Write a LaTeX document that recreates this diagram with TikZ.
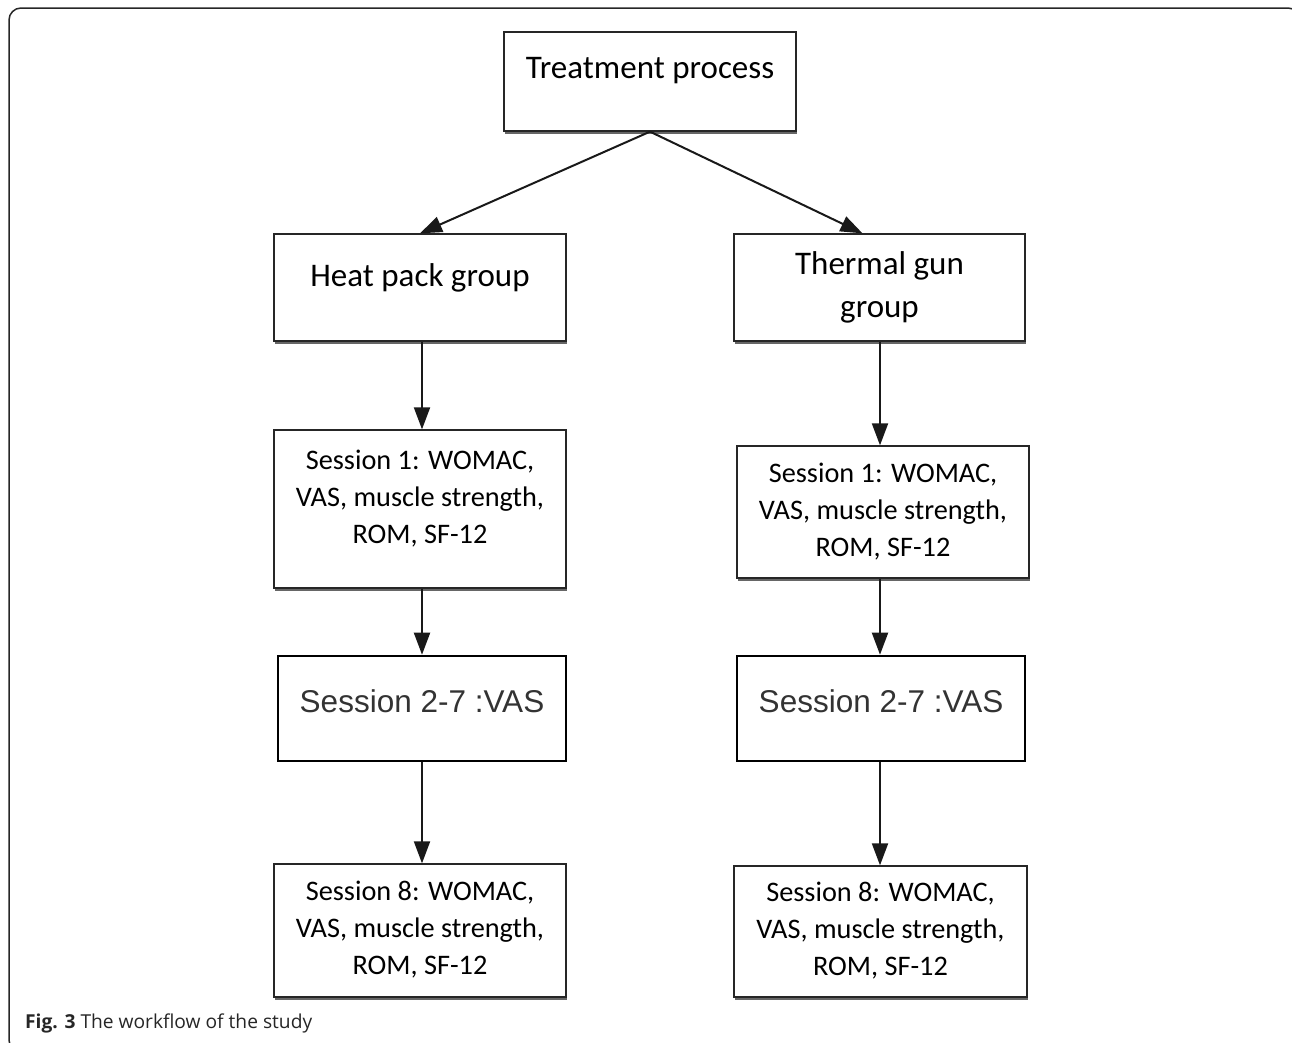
\documentclass[tikz,border=0pt]{standalone}
\usepackage{fontspec}
\setmainfont{Carlito}
\newfontfamily\arialf{Liberation Sans}
\newfontfamily\capf{Open Sans}
\usetikzlibrary{arrows.meta,shadows,calc}
\newcommand\liftbox[2]{\raisebox{#1}[\height][\depth]{\begin{tabular}{@{}c@{}}#2\end{tabular}}}
\begin{document}
\begin{tikzpicture}[x=1pt,y=-1pt,
  box/.style={draw=black!85, line width=1.3pt, fill=white, inner sep=0pt,
    text=black,
    drop shadow={shadow xshift=1pt, shadow yshift=-2.5pt, fill=black!75, opacity=0.8}},
  bigf/.style={font=\fontsize{33}{43}\selectfont},
  smallf/.style={font=\fontsize{28.3}{37}\selectfont},
  vasbox/.style={draw=black, line width=2.6pt, fill=white, inner sep=0pt,
    text=black!80, font=\arialf\fontsize{31.5}{36}\selectfont},
  conn/.style={line width=2pt, draw=black!90, -{Triangle[length=22pt,width=16pt]}}
]
\useasboundingbox (0,0) rectangle (1292,1042);
\clip (0,0) rectangle (1292,1042);
\draw[line width=1.5pt, draw=black!85, rounded corners=12pt] (9,8) rectangle (1300,1052);

% top
\node[box, bigf, minimum width=292pt, minimum height=99pt] (treat) at (650,81.5)
  {\liftbox{12pt}{Treatment process}};

% groups
\node[box, bigf, minimum width=292pt, minimum height=107pt] (hp) at (420,287.5)
  {\liftbox{10pt}{Heat pack group}};
\node[box, bigf, minimum width=291pt, minimum height=107pt] (tg) at (879.5,287.5)
  {\liftbox{0pt}{Thermal gun\\group}};

% session 1
\node[box, smallf, minimum width=292pt, minimum height=158pt] (s1l) at (420,509)
  {\liftbox{10pt}{Session 1: WOMAC,\\VAS, muscle strength,\\ROM, SF-12}};
\node[box, smallf, minimum width=292pt, minimum height=132pt] (s1r) at (883,512)
  {\liftbox{0pt}{Session 1: WOMAC,\\VAS, muscle strength,\\ROM, SF-12}};

% session 2-7
\node[vasbox, minimum width=288pt, minimum height=105pt] (s2l) at (422,708.5)
  {\liftbox{3pt}{Session 2-7 :VAS}};
\node[vasbox, minimum width=288pt, minimum height=105pt] (s2r) at (881,708.5)
  {\liftbox{3pt}{Session 2-7 :VAS}};

% session 8
\node[box, smallf, minimum width=292pt, minimum height=133pt] (s8l) at (420,930.5)
  {\liftbox{0pt}{Session 8: WOMAC,\\VAS, muscle strength,\\ROM, SF-12}};
\node[box, smallf, minimum width=293pt, minimum height=131pt] (s8r) at (880.5,931.5)
  {\liftbox{0pt}{Session 8: WOMAC,\\VAS, muscle strength,\\ROM, SF-12}};

% connector start points (column axes)
\coordinate (la) at ($(hp.south)+(2,0)$);
\coordinate (ra) at ($(tg.south)+(0.5,0)$);

% connectors
\draw[conn] (treat.south) -- (hp.north);
\draw[conn] (treat.south) -- ($(tg.north)+(-17,0)$);
\draw[conn] (la) -- (la |- s1l.north);
\draw[conn] (la |- s1l.south) -- (la |- s2l.north);
\draw[conn] (la |- s2l.south) -- (la |- s8l.north);
\draw[conn] (ra) -- (ra |- s1r.north);
\draw[conn] (ra |- s1r.south) -- (ra |- s2r.north);
\draw[conn] (ra |- s2r.south) -- (ra |- s8r.north);

% caption
\node[anchor=base west, inner sep=0pt, font=\capf\fontsize{19.2}{23}\selectfont, text=black!85] (cap) at (25,1028)
  {\textbf{Fig. 3} The workflow of the study};
\end{tikzpicture}
\end{document}
